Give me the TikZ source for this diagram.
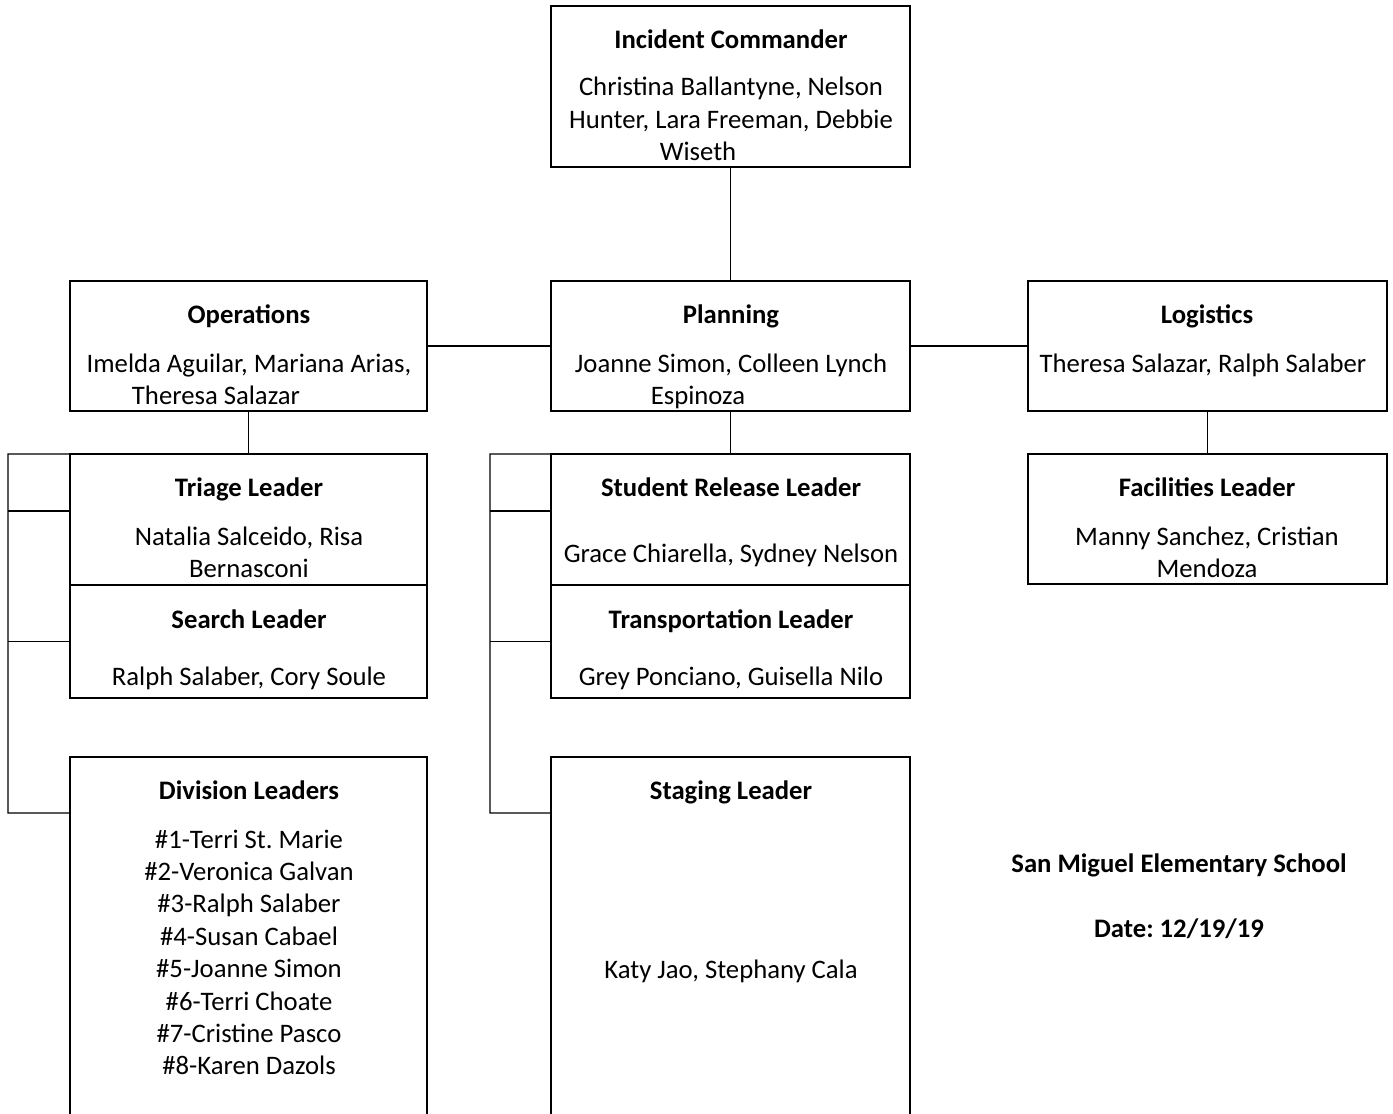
\documentclass[tikz,border=0pt]{standalone}
\usepackage{fontspec}
\setmainfont{Carlito}
\frenchspacing
\begin{document}
\begin{tikzpicture}[x=0.02cm,y=-0.02cm,
    box/.style={draw, line width=0.8pt, inner sep=0pt, outer sep=0pt},
    head/.style={font=\bfseries\fontsize{15.2}{18}\selectfont, anchor=base, inner sep=0pt},
    person/.style={font=\fontsize{15.2}{18}\selectfont, anchor=base, inner sep=0pt},
    link/.style={line width=0.8pt}]

    \useasboundingbox (0,0) rectangle (1393,1114);
    \clip (0,0) rectangle (1393,1114);

    % boxes
    \node[box, minimum width=7.18cm, minimum height=3.22cm] (ic) at (730.5,86.5) {};
    \node[box, minimum width=7.14cm, minimum height=2.6cm] (ops) at (248.5,346) {};
    \node[box, minimum width=7.18cm, minimum height=2.6cm] (plan) at (730.5,346) {};
    \node[box, minimum width=7.18cm, minimum height=2.6cm] (logi) at (1207.5,346) {};

    \node[box, minimum width=7.14cm, minimum height=2.62cm] (triage) at (248.5,519.5) {};
    \node[box, minimum width=7.14cm, minimum height=2.26cm] (search) at (248.5,641.5) {};
    \node[box, minimum width=7.14cm, minimum height=7.66cm] (divis) at (248.5,948.5) {};

    \node[box, minimum width=7.18cm, minimum height=2.62cm] (release) at (730.5,519.5) {};
    \node[box, minimum width=7.18cm, minimum height=2.26cm] (transp) at (730.5,641.5) {};
    \node[box, minimum width=7.18cm, minimum height=7.66cm] (staging) at (730.5,948.5) {};

    \node[box, minimum width=7.18cm, minimum height=2.6cm] (facil) at (1207.5,519) {};

    % connectors
    \draw[link] (ic.south) -- (plan.north);
    \draw[link] (ops.east) -- (plan.west);
    \draw[link] (plan.east) -- (logi.west);
    \draw[link] (ops.south) -- (triage.north);
    \draw[link] (plan.south) -- (release.north);
    \draw[link] (logi.south) -- (facil.north);

    \coordinate (oprail) at (8,454);
    \coordinate (plrail) at (490,454);
    \draw[link] (triage.north west) -- (oprail) -- (8,813) -- (8,813 -| divis.west);
    \draw[link] (8,511) -- (8,511 -| triage.west);
    \draw[link] (8,641.5) -- (search.west);
    \draw[link] (release.north west) -- (plrail) -- (490,813) -- (490,813 -| staging.west);
    \draw[link] (490,511) -- (490,511 -| release.west);
    \draw[link] (490,641.5) -- (transp.west);

    % texts
    \node[head] (ichead) at (731,49) {Incident Commander};
    \node[person] (ic1) at (731,96) {Christina Ballantyne, Nelson};
    \node[person] (ic2) at (731,129) {Hunter, Lara Freeman, Debbie};
    \node[person] (ic3) at (698,161) {Wiseth};

    \node[head] (opshead) at (249,324) {Operations};
    \node[person] (ops1) at (249,373) {Imelda Aguilar, Mariana Arias,};
    \node[person] (ops2) at (216,405) {Theresa Salazar};

    \node[head] (planhead) at (731,324) {Planning};
    \node[person] (plan1) at (731,373) {Joanne Simon, Colleen Lynch};
    \node[person] (plan2) at (698,405) {Espinoza};

    \node[head] (logihead) at (1207,324) {Logistics};
    \node[person] (logi1) at (1203,373) {Theresa Salazar, Ralph Salaber};

    \node[head] (triagehead) at (249,497) {Triage Leader};
    \node[person] (triage1) at (249,546) {Natalia Salceido, Risa};
    \node[person] (triage2) at (249,578) {Bernasconi};

    \node[head] (searchhead) at (249,628) {Search Leader};
    \node[person] (search1) at (249,685) {Ralph Salaber, Cory Soule};

    \node[head] (divishead) at (249,799) {Division Leaders};
    \foreach \txt [count=\i] in {\#1-Terri St. Marie, \#2-Veronica Galvan,
        \#3-Ralph Salaber, \#4-Susan Cabael, \#5-Joanne Simon, \#6-Terri Choate,
        \#7-Cristine Pasco, \#8-Karen Dazols}
        \node[person] (div\i) at (249,{848+32.4*(\i-1)}) {\txt};

    \node[head] (releasehead) at (731,497) {Student Release Leader};
    \node[person] (release1) at (731,562) {Grace Chiarella, Sydney Nelson};

    \node[head] (transphead) at (731,628) {Transportation Leader};
    \node[person] (transp1) at (731,685) {Grey Ponciano, Guisella Nilo};

    \node[head] (staginghead) at (731,799) {Staging Leader};
    \node[person] (staging1) at (731,978) {Katy Jao, Stephany Cala};

    \node[head] (facilhead) at (1207,497) {Facilities Leader};
    \node[person] (facil1) at (1207,546) {Manny Sanchez, Cristian};
    \node[person] (facil2) at (1207,578) {Mendoza};

    \node[head] (school) at (1179,872) {San Miguel Elementary School};
    \node[head] (date) at (1179,937) {Date: 12/19/19};
\end{tikzpicture}
\end{document}
